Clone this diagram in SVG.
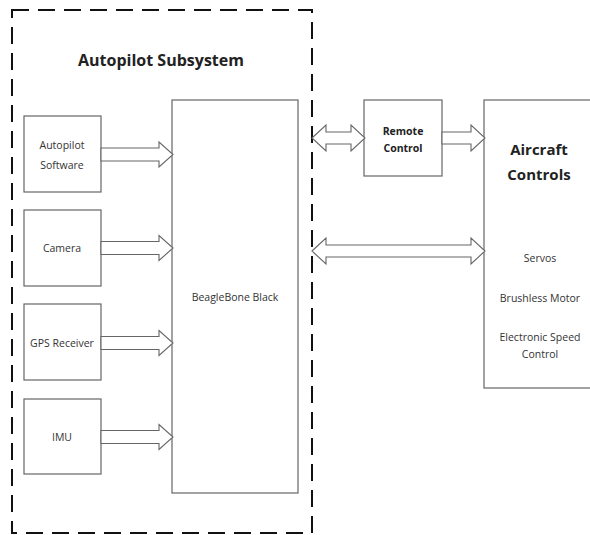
<svg xmlns="http://www.w3.org/2000/svg" width="590" height="535" viewBox="0 0 590 535">
<style>
.box{fill:#fff;stroke:#666;stroke-width:1.2}
.arr{fill:#fff;stroke:#666;stroke-width:1.1;stroke-linejoin:miter}
.t{font-family:"Open Sans","Liberation Sans",sans-serif;font-size:10.5px;fill:#333;text-anchor:middle}
.b{font-family:"Open Sans","Liberation Sans",sans-serif;font-weight:bold;fill:#222;text-anchor:middle}
</style>
<rect width="590" height="535" fill="#fff"/>
<g id="subsystem">
<rect x="12" y="10" width="300" height="523" fill="none" stroke="#111" stroke-width="2" stroke-dasharray="17 9"/>
<text class="b" x="161" y="66" font-size="16">Autopilot Subsystem</text>
</g>
<g id="autopilot-software">
<rect class="box" x="24" y="116" width="77" height="76"/>
<text class="t" x="62" y="149">Autopilot</text>
<text class="t" x="62" y="169">Software</text>
</g>
<g id="camera">
<rect class="box" x="24" y="210" width="77" height="76"/>
<text class="t" x="62" y="252">Camera</text>
</g>
<g id="gps">
<rect class="box" x="24" y="304" width="77" height="76"/>
<text class="t" x="62" y="347">GPS Receiver</text>
</g>
<g id="imu">
<rect class="box" x="24" y="399" width="77" height="75"/>
<text class="t" x="62" y="441">IMU</text>
</g>
<g id="beaglebone">
<rect class="box" x="172" y="100" width="126" height="393"/>
<text class="t" x="235" y="301">BeagleBone Black</text>
</g>
<g id="remote-control">
<rect class="box" x="364" y="100" width="78" height="76"/>
<text class="b" x="403" y="135" font-size="10.5">Remote</text>
<text class="b" x="403" y="152" font-size="10.5">Control</text>
</g>
<g id="aircraft-controls">
<rect class="box" x="484" y="100" width="115" height="288"/>
<text class="b" x="539" y="155" font-size="15">Aircraft</text>
<text class="b" x="539" y="180" font-size="15">Controls</text>
<text class="t" x="540" y="262">Servos</text>
<text class="t" x="540" y="302">Brushless Motor</text>
<text class="t" x="540" y="341">Electronic Speed</text>
<text class="t" x="540" y="358">Control</text>
</g>
<g id="connectors">
<polygon class="arr" points="101,148 159,148 159,142 173,154.5 159,167 159,161 101,161"/>
<polygon class="arr" points="101,241.5 159,241.5 159,235.5 173,248 159,260.5 159,254.5 101,254.5"/>
<polygon class="arr" points="101,336.5 159,336.5 159,330.5 173,343 159,355.5 159,349.5 101,349.5"/>
<polygon class="arr" points="101,430.5 159,430.5 159,424.5 173,437 159,449.5 159,443.5 101,443.5"/>
<polygon class="arr" points="312,138 326,125 326,132 351,132 351,125 365,138 351,151 351,144 326,144 326,151"/>
<polygon class="arr" points="442,132 471,132 471,125 485,138 471,151 471,144 442,144"/>
<polygon class="arr" points="312,251 326,238 326,245 471,245 471,238 485,251 471,264 471,257 326,257 326,264"/>
</g>
</svg>
